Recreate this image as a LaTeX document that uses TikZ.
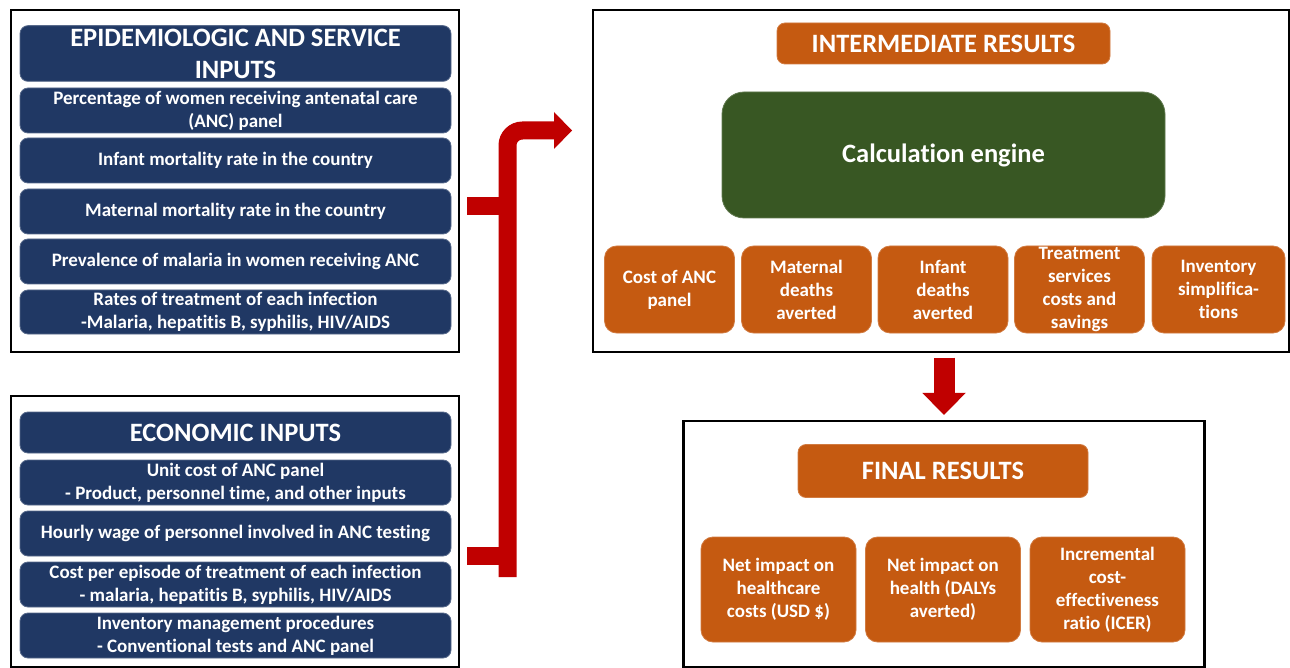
\documentclass[tikz,border=0pt]{standalone}
\usepackage{fontspec}
\setmainfont{Carlito}[Ligatures=NoCommon]
\usepackage{tikz}
\usetikzlibrary{arrows.meta}
\usepackage{xcolor}

\definecolor{navyblue}{RGB}{32,56,100}
\definecolor{burntorange}{RGB}{197,90,17}
\definecolor{enginegreen}{RGB}{56,87,35}
\definecolor{pipered}{RGB}{192,0,0}

\begin{document}
\begin{tikzpicture}[x=1pt,y=-1pt,
    frame/.style={draw=black, line width=2.2pt, inner sep=0pt},
    inputbox/.style={fill=navyblue, draw=navyblue!75!white, line width=0.8pt, rounded corners=8pt,
        text=white, align=center, inner sep=0pt, minimum width=431pt,
        font=\fontsize{19}{23}\selectfont\bfseries},
    inputtitle/.style={inputbox, font=\fontsize{26.5}{32}\selectfont\bfseries},
    resultbox/.style={fill=burntorange, draw=burntorange!80!white, line width=0.8pt, rounded corners=12pt,
        text=white, align=center, inner sep=0pt,
        font=\fontsize{19}{23}\selectfont\bfseries},
    resulttitle/.style={resultbox, rounded corners=8pt, font=\fontsize{26.5}{32}\selectfont\bfseries},
    pipe/.style={draw=pipered, line width=18pt}]
    \useasboundingbox (0,0) rectangle (1290,668);

    % Epidemiologic and service inputs
    \node[frame, minimum width=448pt, minimum height=342pt] (epiframe) at (235,181) {};
    \node[inputtitle, minimum height=55.7pt] (epititle) at (235.5,53.5) {EPIDEMIOLOGIC AND SERVICE\\INPUTS};
    \node[inputbox, minimum height=45pt] (epi1) at (235.5,110.5) {Percentage of women receiving antenatal care\\(ANC) panel};
    \node[inputbox, minimum height=45pt] (epi2) at (235.5,160.5) {Infant mortality rate in the country};
    \node[inputbox, minimum height=45pt] (epi3) at (235.5,211.5) {Maternal mortality rate in the country};
    \node[inputbox, minimum height=45pt] (epi4) at (235.5,261.5) {Prevalence of malaria in women receiving ANC};
    \node[inputbox, minimum height=44pt] (epi5) at (235.5,312) {Rates of treatment of each infection\\-Malaria, hepatitis B, syphilis, HIV/AIDS};

    % Economic inputs
    \node[frame, minimum width=448pt, minimum height=271pt] (ecoframe) at (235,531.5) {};
    \node[inputtitle, minimum height=41pt] (ecotitle) at (235.5,432.5) {ECONOMIC INPUTS};
    \node[inputbox, minimum height=45pt] (eco1) at (235.5,482.5) {Unit cost of ANC panel\\- Product, personnel time, and other inputs};
    \node[inputbox, minimum height=45pt] (eco2) at (235.5,533.5) {Hourly wage of personnel involved in ANC testing};
    \node[inputbox, minimum height=45pt] (eco3) at (235.5,584.5) {Cost per episode of treatment of each infection\\- malaria, hepatitis B, syphilis, HIV/AIDS};
    \node[inputbox, minimum height=45pt] (eco4) at (235.5,635.5) {Inventory management procedures\\- Conventional tests and ANC panel};

    % Intermediate results
    \node[frame, minimum width=696pt, minimum height=342pt] (interframe) at (941,181) {};
    \node[resulttitle, minimum width=333pt, minimum height=41pt] (intertitle) at (943.5,43.5) {INTERMEDIATE RESULTS};
    \node[resulttitle, fill=enginegreen, draw=enginegreen!80!white, rounded corners=22pt,
        minimum width=443pt, minimum height=126pt] (engine) at (943.5,155) {Calculation engine};
    \node[resultbox, minimum width=130pt, minimum height=87pt] (ancost) at (669.5,289.5) {Cost of ANC\\panel};
    \node[resultbox, minimum width=130pt, minimum height=87pt] (matdeaths) at (806.5,289.5) {Maternal\\deaths\\averted};
    \node[resultbox, minimum width=130pt, minimum height=87pt] (infdeaths) at (943,289.5) {Infant\\deaths\\averted};
    \node[resultbox, minimum width=130pt, minimum height=87pt] (treatment) at (1079.5,289.5) {Treatment\\services\\costs and\\savings};
    \node[resultbox, minimum width=133pt, minimum height=87pt] (inventory) at (1218.5,289.5) {Inventory\\simplifica-\\tions};

    % Final results
    \node[frame, minimum width=521pt, minimum height=246pt] (finalframe) at (944,544) {};
    \node[resulttitle, minimum width=290pt, minimum height=53pt] (finaltitle) at (943,471) {FINAL RESULTS};
    \node[resultbox, minimum width=155pt, minimum height=105pt] (costimpact) at (778.5,589.5) {Net impact on\\healthcare\\costs (USD \$)};
    \node[resultbox, minimum width=155pt, minimum height=105pt] (healthimpact) at (943,589.5) {Net impact on\\health (DALYs\\averted)};
    \node[resultbox, minimum width=155pt, minimum height=105pt] (icer) at (1107.5,589.5) {Incremental\\cost-\\effectiveness\\ratio (ICER)};

    % Red connector from the inputs
    \coordinate (busbot) at (507.5,577);
    \coordinate (busend) at (572,130.5);
    \coordinate (epistub) at (467,206);
    \coordinate (ecostub) at (467,556);
    \draw[pipe] (epistub) -- (epistub -| busbot);
    \draw[pipe] (ecostub) -- (ecostub -| busbot);
    \draw[pipe, rounded corners=15pt, -{Triangle[width=37pt,length=18pt,line width=0pt]}] (busbot) |- (busend);

    % Arrow down to final results
    \draw[pipe, line width=21pt, -{Triangle[width=43.5pt,length=22pt,line width=0pt]},
        shorten <=4.5pt, shorten >=5pt] (finalframe.north |- interframe.south) -- (finalframe.north);
\end{tikzpicture}
\end{document}
